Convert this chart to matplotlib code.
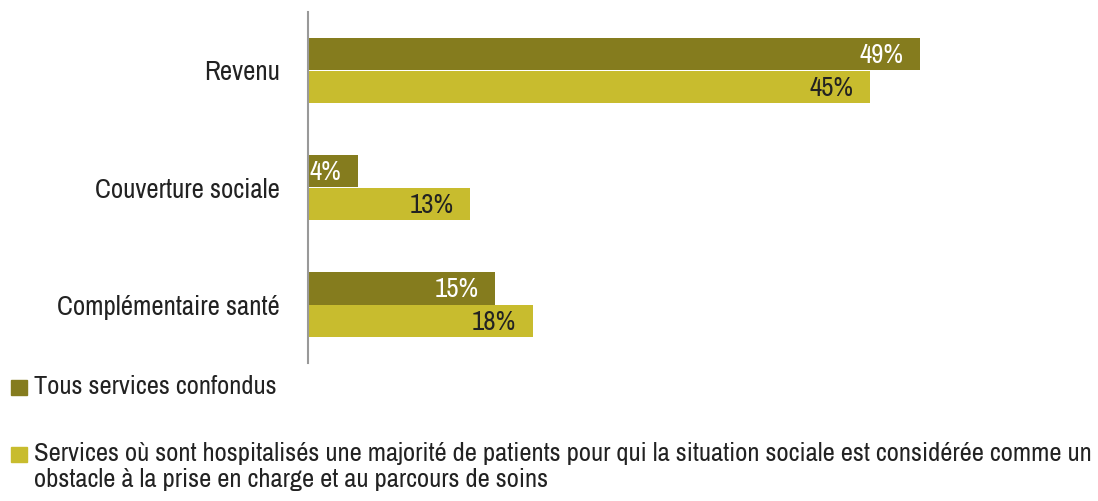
import matplotlib
matplotlib.use('Agg')
import matplotlib.pyplot as plt
from matplotlib import font_manager as fm
from matplotlib.patches import Rectangle
import numpy as np

categories = ['Revenu', 'Couverture sociale', 'Complémentaire santé']
tous_services = [49, 4, 15]
services_sociaux = [45, 13, 18]
labels = ['Tous services confondus',
          'Services où sont hospitalisés une majorité de patients pour qui la situation sociale est considérée comme un\n'
          'obstacle à la prise en charge et au parcours de soins']

dark = '#857c1e'
light = '#c8bc2e'

# look for a narrow / condensed face, the original uses a condensed font
family, stretch = 'DejaVu Sans', 'normal'
for f in fm.fontManager.ttflist:
    if f.style != 'normal' or f.weight not in (400, 'normal', 'regular'):
        continue
    if 'Narrow' in f.name or 'Condensed' in f.name:
        family, stretch = f.name, 'normal'
        break
    if 'condensed' in str(f.stretch):
        family, stretch = f.name, f.stretch
plt.rcParams['font.family'] = [family, 'DejaVu Sans']
plt.rcParams['font.stretch'] = stretch

W, H = 1098, 501
fig = plt.figure(figsize=(W / 100, H / 100), dpi=100)
renderer = fig.canvas.get_renderer()


def fit_size(s, width_px, base=20):
    t = fig.text(0, 0, s, fontsize=base)
    w = t.get_window_extent(renderer).width
    t.remove()
    return base * width_px / w


cat_fs = fit_size('Couverture sociale', 184)
val_fs = fit_size('49%', 44)
leg_fs = fit_size('Tous services confondus', 242)

# axes : left spine at x=308px, from y=12px to y=363px
ax_left, ax_right = 308, 1090
ax_top, ax_bot = 12, 363
ax = fig.add_axes([ax_left / W, 1 - ax_bot / H, (ax_right - ax_left) / W, (ax_bot - ax_top) / H])
px_per_pct = 12.49
ax.set_xlim(0, (ax_right - ax_left) / px_per_pct)
ax.set_ylim(2.5, -0.5)

y = np.arange(len(categories))
h = 0.282
b1 = ax.barh(y - h / 2, tous_services, height=h, color=dark)
b2 = ax.barh(y + h / 2, services_sociaux, height=h, color=light)

for bars, vals, col in [(b1, tous_services, 'white'), (b2, services_sociaux, '#222222')]:
    for bar, v in zip(bars, vals):
        ax.annotate(f'{v}%', (v, bar.get_y() + bar.get_height() / 2),
                    xytext=(-12, -1), textcoords='offset points',
                    ha='right', va='center', fontsize=val_fs, color=col)

ax.set_yticks(y)
ax.set_yticklabels(categories, fontsize=cat_fs, color='#222222')
ax.tick_params(axis='y', length=0, pad=20)
ax.set_xticks([])
for s in ['top', 'right', 'bottom']:
    ax.spines[s].set_visible(False)
ax.spines['left'].set_color('#999999')
ax.spines['left'].set_linewidth(1.5)

# legend
for i, (lab, col) in enumerate(zip(labels, [dark, light])):
    ytop = [380, 447][i]
    fig.patches.append(Rectangle((11 / W, 1 - (ytop + 15) / H), 16 / W, 15 / H,
                                 transform=fig.transFigure, color=col))
    fig.text(34 / W, 1 - (ytop - 5) / H, lab, fontsize=leg_fs, color='#222222',
             va='top', ha='left', linespacing=1.15)

fig.savefig('out.png', dpi=100)
